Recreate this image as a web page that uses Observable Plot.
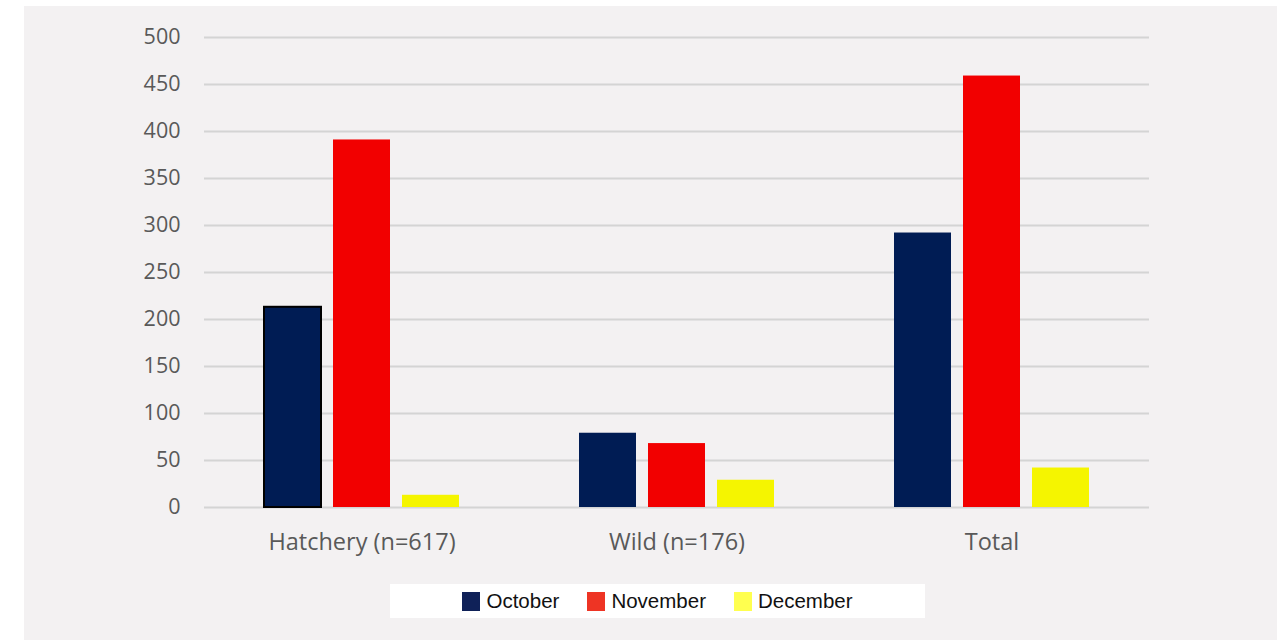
<!DOCTYPE html>
<html>
<head>
<meta charset="utf-8">
<script src="https://cdn.jsdelivr.net/npm/d3@7"></script>
<script src="https://cdn.jsdelivr.net/npm/@observablehq/plot@0.6"></script>
<style>
  html, body { margin: 0; padding: 0; background: #ffffff; }
  #panel { position: absolute; left: 24px; top: 6px; width: 1253px; height: 634px; background: #f3f1f2; }
  #chart { position: absolute; left: 0; top: 0; }
  #legend { position: absolute; left: 390px; top: 584px; width: 535px; height: 34px; background: #ffffff;
    display: flex; align-items: center; justify-content: center; gap: 28px;
    font-family: "Liberation Sans", Arial, sans-serif; font-size: 20.5px; color: #111; }
  #legend .item { display: flex; align-items: center; gap: 6px; }
  #legend .sw { width: 18px; height: 19px; display: inline-block; }
</style>
</head>
<body>
<div id="panel"></div>
<div id="chart"></div>
<div id="legend"></div>
<script>
const groups = ["Hatchery (n=617)", "Wild (n=176)", "Total"];
const months = ["October", "November", "December"];
const october = [213, 79, 292];
const november = [391, 68, 459];
const december = [13, 29, 42];
const yTicks = [0, 50, 100, 150, 200, 250, 300, 350, 400, 450, 500];

const barColors = ["#001c54", "#f20000", "#f5f500"];
const legendColors = ["#0f2158", "#ee3424", "#ffff4f"];

const series = [october, november, december];
const data = [];
groups.forEach((g, gi) => months.forEach((m, mi) => data.push({group: g, month: m, value: series[mi][gi]})));

const chart = Plot.plot({
  width: 1281,
  height: 570,
  marginLeft: 203,
  marginRight: 131,
  marginTop: 37,
  marginBottom: 63,
  style: {background: "transparent", fontFamily: "'Open Sans', sans-serif"},
  fx: {domain: groups, padding: 0, label: null},
  x: {domain: months, paddingInner: 0.17, paddingOuter: 0.84, axis: null},
  y: {domain: [0, 500], label: null},
  color: {domain: months, range: barColors},
  marks: [
    Plot.gridY(yTicks, {stroke: "#d4d4d4", strokeOpacity: 1, strokeWidth: 2}),
    Plot.axisY(yTicks, {tickSize: 0, tickPadding: 24, fontSize: 21.5, fill: "#595959", label: null}),
    Plot.axisFx({anchor: "bottom", tickSize: 0, tickPadding: 26, fontSize: 23.5, fill: "#595959", label: null}),
    Plot.barY(data, {fx: "group", x: "month", y: "value", fill: "month"}),
    Plot.barY(data, {fx: "group", x: "month", y: "value", fill: "none", stroke: "#000", strokeWidth: 2,
      filter: d => d.group === groups[0] && d.month === months[0]})
  ]
});
document.getElementById("chart").appendChild(chart);

const legend = document.getElementById("legend");
months.forEach((m, i) => {
  const item = document.createElement("div");
  item.className = "item";
  const sw = document.createElement("span");
  sw.className = "sw";
  sw.style.background = legendColors[i];
  const t = document.createElement("span");
  t.textContent = m;
  item.appendChild(sw);
  item.appendChild(t);
  legend.appendChild(item);
});
</script>
</body>
</html>
